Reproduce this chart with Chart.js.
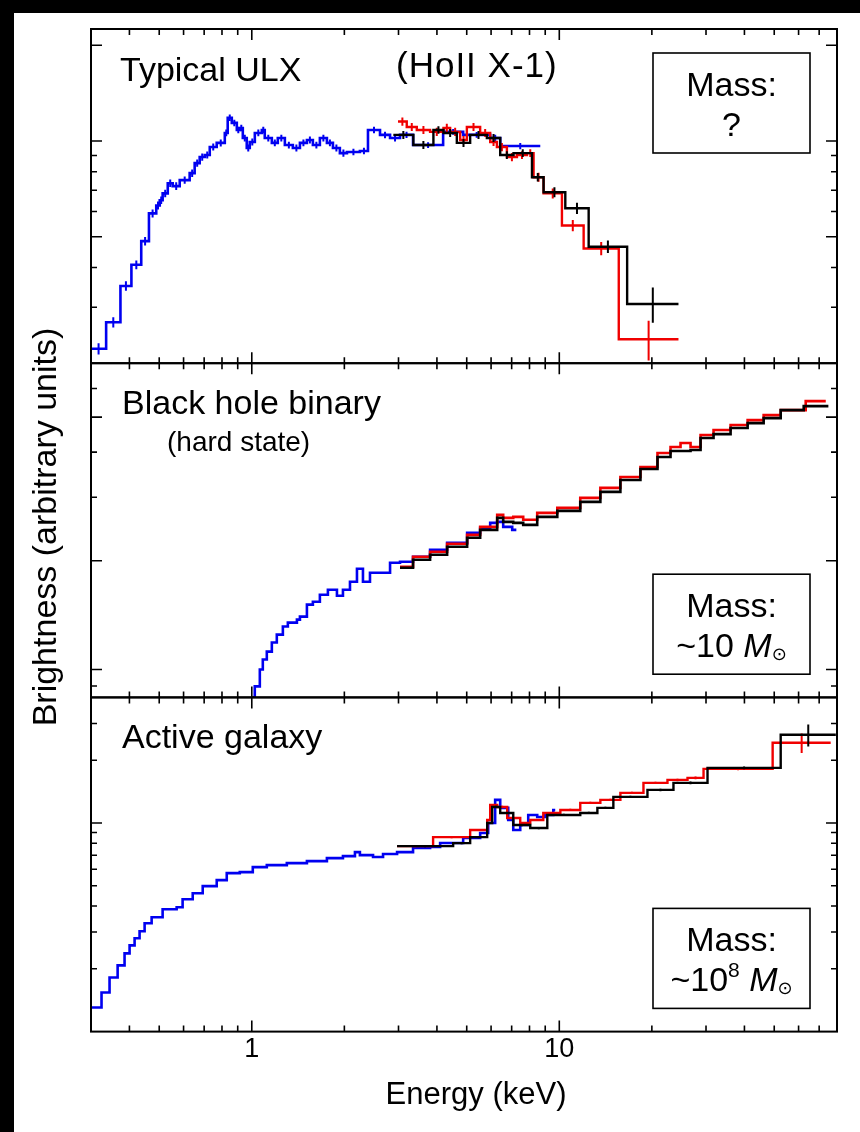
<!DOCTYPE html>
<html>
<head>
<meta charset="utf-8">
<script src="https://cdn.jsdelivr.net/npm/chart.js@4.4.1/dist/chart.umd.min.js"></script>
<style>
  html, body { margin: 0; padding: 0; background: #000; }
  #sheet { position: absolute; left: 14px; top: 13px; width: 846px; height: 1119px; background: #fff; }
  #plot { position: absolute; left: 0; top: 0; }
</style>
</head>
<body>
<div id="sheet"></div>
<canvas id="plot" width="860" height="1132"></canvas>
<script>
// ---------- energy axis (keV) ----------
const energyRange = [0.3, 80];
const energyLabels = [1, 10];
const energyMajorTicks = [1, 10];
const energyMinorTicks = [0.4, 0.5, 0.6, 0.7, 0.8, 0.9, 2, 3, 4, 5, 6, 7, 8, 9, 20, 30, 40, 50, 60, 70];

// ---------- brightness axes, one per panel (arbitrary units) ----------
const ulxRange = [0.2, 2.25];
const ulxMajorTicks = [0.5, 1, 2];
const ulxMinorTicks = [0.3, 0.4, 0.6, 0.7, 0.8, 0.9];

const bhbRange = [0.837, 7.05];
const bhbMajorTicks = [1, 2, 5];
const bhbMinorTicks = [0.9, 3, 4, 6];

const agnRange = [0.1, 4];
const agnMajorTicks = [1];
const agnMinorTicks = [0.2, 0.3, 0.4, 0.5, 0.6, 0.7, 0.8, 0.9, 2, 3];

// ---------- Typical ULX (Ho II X-1) ----------
const ulxBlueEdges = [0.300, 0.336, 0.374, 0.406, 0.437, 0.463, 0.489, 0.502, 0.513, 0.533,
  0.553, 0.583, 0.628, 0.652, 0.677, 0.703, 0.730, 0.769, 0.817, 0.835,
  0.861, 0.894, 0.914, 0.935, 0.963, 0.985, 1.023, 1.078, 1.102, 1.162,
  1.215, 1.281, 1.360, 1.434, 1.511, 1.580, 1.665, 1.755, 1.836, 1.934,
  2.039, 2.247, 2.387, 2.612, 2.816, 3.034, 3.345, 4.190, 4.868, 5.960,
  6.425, 8.673];
const ulxBlueFlux = [0.222, 0.269, 0.350, 0.408, 0.484, 0.592, 0.627, 0.651, 0.684, 0.736,
  0.721, 0.753, 0.792, 0.852, 0.890, 0.903, 0.957, 0.986, 1.060, 1.183,
  1.140, 1.083, 1.099, 1.022, 0.950, 0.993, 1.060, 1.083, 1.022, 0.986,
  1.022, 0.971, 0.950, 0.986, 1.007, 0.971, 1.022, 0.986, 0.950, 0.916,
  0.923, 0.930, 1.083, 1.045, 1.022, 1.045, 0.971, 1.068, 1.045, 1.022,
  0.964];
const ulxBlueErr = [0.009, 0.010, 0.012, 0.013, 0.015, 0.017, 0.018, 0.018, 0.019, 0.020,
  0.020, 0.020, 0.021, 0.022, 0.023, 0.023, 0.024, 0.025, 0.026, 0.028,
  0.027, 0.026, 0.026, 0.025, 0.024, 0.025, 0.026, 0.026, 0.025, 0.024,
  0.025, 0.024, 0.024, 0.024, 0.025, 0.024, 0.025, 0.024, 0.024, 0.024,
  0.022, 0.022, 0.026, 0.025, 0.025, 0.024, 0.020, 0.022, 0.022, 0.024,
  0.022];

const ulxRedEdges = [2.989, 3.191, 3.440, 3.800, 4.201, 4.416, 4.760, 5.005, 5.529, 5.960,
  6.267, 6.755, 7.282, 7.850, 8.248, 8.889, 10.20, 12.00, 15.61, 24.41];
const ulxRedFlux = [1.151, 1.107, 1.083, 1.068, 1.099, 1.068, 1.007, 1.107, 1.060, 0.993,
  0.957, 0.890, 0.903, 0.916, 0.769, 0.684, 0.542, 0.459, 0.238];
const ulxRedErr = [0.035, 0.033, 0.032, 0.032, 0.033, 0.032, 0.030, 0.032, 0.030, 0.028,
  0.028, 0.026, 0.026, 0.026, 0.025, 0.025, 0.022, 0.022, 0.034];

const ulxBlackEdges = [2.886, 3.353, 3.896, 4.201, 4.643, 5.130, 5.814, 6.425, 7.098, 8.150,
  8.889, 10.46, 12.46, 16.62, 24.41];
const ulxBlackFlux = [1.045, 0.971, 1.083, 1.060, 0.986, 1.045, 1.022, 0.903, 0.916, 0.769,
  0.690, 0.614, 0.465, 0.307];
const ulxBlackErr = [0.030, 0.028, 0.030, 0.030, 0.028, 0.030, 0.030, 0.026, 0.026, 0.024,
  0.025, 0.025, 0.021, 0.039];

// ---------- Black hole binary, hard state ----------
const bhbBlueEdges = [1.0075, 1.0227, 1.062, 1.086, 1.119, 1.162, 1.206, 1.262, 1.310, 1.402,
  1.434, 1.511, 1.580, 1.665, 1.768, 1.892, 1.979, 2.086, 2.198, 2.299,
  2.423, 2.816, 3.034, 3.345, 3.800, 4.317, 5.015, 5.529, 5.960, 6.281,
  6.570, 7.029, 7.25];
const bhbBlueFlux = [0.837, 0.898, 1.000, 1.066, 1.121, 1.188, 1.249, 1.315, 1.348, 1.374,
  1.401, 1.512, 1.541, 1.611, 1.663, 1.601, 1.663, 1.750, 1.901, 1.750,
  1.853, 1.975, 1.988, 2.052, 2.146, 2.243, 2.390, 2.468, 2.547, 2.564,
  2.483, 2.436];

const bhbRedEdges = [3.034, 3.345, 3.800, 4.317, 5.015, 5.529, 6.281, 6.570, 7.084, 7.632,
  8.476, 9.851, 11.70, 13.60, 15.80, 18.36, 20.86, 23.00, 24.79, 26.72,
  28.80, 31.74, 36.06, 40.97, 46.19, 52.48, 63.29, 73.54];
const bhbRedFlux = [1.926, 2.052, 2.118, 2.229, 2.360, 2.483, 2.680, 2.630, 2.647, 2.597,
  2.715, 2.803, 2.987, 3.183, 3.413, 3.637, 3.976, 4.130, 4.237, 4.130,
  4.459, 4.603, 4.752, 4.905, 5.063, 5.227, 5.535];

const bhbBlackEdges = [3.034, 3.345, 3.800, 4.317, 5.015, 5.529, 6.281, 6.570, 7.084, 7.632,
  8.476, 9.851, 11.70, 13.60, 15.80, 18.36, 20.86, 23.00, 26.72, 28.80,
  31.74, 36.06, 40.97, 46.19, 52.48, 62.35, 75.0];
const bhbBlackFlux = [1.913, 2.013, 2.078, 2.187, 2.316, 2.436, 2.630, 2.564, 2.547, 2.515,
  2.647, 2.750, 2.911, 3.103, 3.349, 3.592, 3.876, 4.027, 4.053, 4.375,
  4.486, 4.662, 4.812, 4.967, 5.227, 5.362];

// ---------- Active galaxy ----------
const agnBlueEdges = [0.300, 0.3246, 0.3447, 0.3662, 0.3857, 0.4005, 0.4158, 0.4316, 0.4482, 0.4724,
  0.5129, 0.5697, 0.5957, 0.6426, 0.6925, 0.7691, 0.8290, 0.9140, 1.0075, 1.119,
  1.300, 1.511, 1.755, 1.979, 2.165, 2.247, 2.479, 2.672, 2.968, 3.345,
  3.800, 4.097, 4.868, 5.529, 5.871, 6.186, 6.425, 6.822, 7.084, 7.464,
  7.925, 8.476, 9.003, 9.561, 9.70];
const agnBlueFlux = [0.1304, 0.1540, 0.1818, 0.2076, 0.2371, 0.2591, 0.2800, 0.3025, 0.3305, 0.3532,
  0.3859, 0.3946, 0.4311, 0.4607, 0.4979, 0.5321, 0.5749, 0.5812, 0.6144, 0.6282,
  0.6423, 0.6567, 0.6788, 0.6940, 0.7253, 0.7017, 0.6865, 0.7096, 0.7253, 0.7582,
  0.7667, 0.8012, 0.8472, 0.8953, 1.000, 1.290, 1.181, 1.034, 0.9254, 0.978,
  1.093, 1.069, 1.093, 1.155];

const agnRedEdges = [2.968, 3.887, 5.130, 5.828, 5.960, 6.281, 6.769, 7.464, 8.046, 8.870,
  10.08, 11.70, 13.60, 15.80, 18.78, 22.48, 26.12, 29.45, 49.41, 76.3];
const agnRedFlux = [0.775, 0.856, 0.925, 1.034, 1.220, 1.194, 1.057, 1.000, 1.034, 1.117,
  1.155, 1.248, 1.290, 1.394, 1.557, 1.609, 1.645, 1.818, 2.424];
const agnRedErr = [0.010, 0.010, 0.010, 0.012, 0.014, 0.014, 0.012, 0.012, 0.012, 0.013,
  0.014, 0.015, 0.016, 0.018, 0.020, 0.022, 0.024, 0.030, 0.26];

const agnBlackEdges = [2.968, 4.516, 5.130, 5.828, 6.050, 6.425, 7.084, 8.046, 9.141, 11.70,
  13.30, 14.99, 19.35, 23.51, 30.34, 52.48, 79.3];
const agnBlackFlux = [0.775, 0.801, 0.856, 1.000, 1.194, 1.117, 0.978, 0.946, 1.093, 1.117,
  1.181, 1.334, 1.441, 1.557, 1.838, 2.649];
const agnBlackErr = [0.010, 0.010, 0.010, 0.012, 0.014, 0.013, 0.012, 0.012, 0.013, 0.014,
  0.015, 0.017, 0.020, 0.022, 0.030, 0.32];

// ---------- texts ----------
const yTitle = 'Brightness (arbitrary units)';
const xTitle = 'Energy (keV)';
const panelNotes = {
  yUlx: { title: 'Typical ULX', subtitle: '(HoII X-1)', mass: 'Mass:', massValue: [{ t: '?' }] },
  yBhb: { title: 'Black hole binary', subtitle: '(hard state)', mass: 'Mass:',
          massValue: [{ t: '~10 ' }, { t: 'M', italic: true }, { t: '\u2299', sun: true }] },
  yAgn: { title: 'Active galaxy', mass: 'Mass:',
          massValue: [{ t: '~10' }, { t: '8', sup: true }, { t: ' ' }, { t: 'M', italic: true }, { t: '\u2299', sun: true }] }
};

const BLUE = '#0000f0';
const RED = '#f00000';
const BLACK = '#000000';
const FONT = '"Liberation Sans", Arial, Helvetica, "DejaVu Sans", sans-serif';

// a histogram: each bin is flat from its lower edge to the next edge
function binsToPoints(edges, flux) {
  const pts = flux.map((v, i) => ({ x: edges[i], y: v }));
  pts.push({ x: edges[edges.length - 1], y: flux[flux.length - 1] });
  return pts;
}

function spectrum(label, axis, edges, flux, errors, color, width, order) {
  return {
    label, yAxisID: axis, data: binsToPoints(edges, flux),
    binEdges: edges, binFlux: flux, binErr: errors || null,
    borderColor: color, borderWidth: width, stepped: 'before',
    pointRadius: 0, pointHoverRadius: 0, fill: false, order
  };
}

const axisTicks = {
  yUlx: { major: ulxMajorTicks, minor: ulxMinorTicks },
  yBhb: { major: bhbMajorTicks, minor: bhbMinorTicks },
  yAgn: { major: agnMajorTicks, minor: agnMinorTicks }
};

// frames, inward tick marks, error bars and panel annotations
const panelDecor = {
  id: 'panelDecor',
  afterDatasetDraw(chart, args) {
    const ds = chart.data.datasets[args.index];
    if (!ds.binErr) return;
    const xs = chart.scales.x, ys = chart.scales[ds.yAxisID];
    const ctx = chart.ctx;
    ctx.save();
    ctx.strokeStyle = ds.borderColor;
    ctx.lineWidth = 2;
    ctx.beginPath();
    for (let i = 0; i < ds.binFlux.length; i++) {
      const cx = (xs.getPixelForValue(ds.binEdges[i]) + xs.getPixelForValue(ds.binEdges[i + 1])) / 2;
      const v = ds.binFlux[i], e = ds.binErr[i];
      ctx.moveTo(cx, ys.getPixelForValue(v + e));
      ctx.lineTo(cx, ys.getPixelForValue(Math.max(v - e, ys.min)));
    }
    ctx.stroke();
    ctx.restore();
  },
  afterDraw(chart) {
    const ctx = chart.ctx;
    const xs = chart.scales.x;
    const { left, right, bottom: areaBottom } = chart.chartArea;
    const MAJ = 11, MIN = 6;
    ctx.save();
    ctx.strokeStyle = '#000';
    ctx.fillStyle = '#000';
    ['yUlx', 'yBhb', 'yAgn'].forEach((id) => {
      const ys = chart.scales[id];
      const top = ys.top, bottom = ys.bottom;
      // ticks
      ctx.lineWidth = 1.6;
      ctx.beginPath();
      const xt = (vals, len) => vals.forEach((v) => {
        const px = xs.getPixelForValue(v);
        ctx.moveTo(px, top); ctx.lineTo(px, top + len);
        ctx.moveTo(px, bottom); ctx.lineTo(px, bottom - len);
      });
      xt(energyMajorTicks, MAJ); xt(energyMinorTicks, MIN);
      const yt = (vals, len) => vals.forEach((v) => {
        const py = ys.getPixelForValue(v);
        ctx.moveTo(left, py); ctx.lineTo(left + len, py);
        ctx.moveTo(right, py); ctx.lineTo(right - len, py);
      });
      yt(axisTicks[id].major, MAJ); yt(axisTicks[id].minor, MIN);
      ctx.stroke();
      // frame
      ctx.lineWidth = 2;
      ctx.strokeRect(left, top, right - left, bottom - top);

      // annotations
      const note = panelNotes[id];
      ctx.textBaseline = 'alphabetic';
      ctx.textAlign = 'left';
      ctx.font = '34px ' + FONT;
      if (id === 'yUlx') {
        ctx.fillText(note.title, left + 29, top + 52);
        ctx.font = '35px ' + FONT;
        ctx.letterSpacing = '1px';
        ctx.fillText(note.subtitle, left + 305, top + 48);
        ctx.letterSpacing = '0px';
      } else {
        ctx.fillText(note.title, left + 31, top + 51);
        if (note.subtitle) {
          ctx.font = '28px ' + FONT;
          ctx.fillText(note.subtitle, left + 76, top + 88);
        }
      }
      // mass box
      const boxTop = id === 'yUlx' ? top + 24 : top + 211;
      const bx = left + 562, bw = 157, bh = 100;
      ctx.fillStyle = '#fff';
      ctx.fillRect(bx, boxTop, bw, bh);
      ctx.fillStyle = '#000';
      ctx.lineWidth = 1.6;
      ctx.strokeRect(bx, boxTop, bw, bh);
      const cx = bx + bw / 2;
      ctx.font = '34px ' + FONT;
      ctx.textAlign = 'center';
      ctx.fillText(note.mass, cx, boxTop + 43);
      // second line built from runs
      ctx.textAlign = 'left';
      const runs = note.massValue.map((r) => {
        let font = '34px ' + FONT, dy = 0;
        if (r.italic) font = 'italic 34px ' + FONT;
        if (r.sup) { font = '21px ' + FONT; dy = -14; }
        if (r.sun) { font = '18px "DejaVu Sans", sans-serif'; dy = 3; }
        ctx.font = font;
        return { t: r.t, font, dy, w: ctx.measureText(r.t).width };
      });
      const total = runs.reduce((s, r) => s + r.w, 0);
      let x = cx - total / 2;
      runs.forEach((r) => {
        ctx.font = r.font;
        ctx.fillText(r.t, x, boxTop + 83 + r.dy);
        x += r.w;
      });
    });
    // energy title under the bottom panel
    ctx.textAlign = 'center';
    ctx.textBaseline = 'alphabetic';
    ctx.font = '31px ' + FONT;
    ctx.fillText(xTitle, (left + right) / 2 + 12, areaBottom + 72);
    // brightness title spanning all panels
    ctx.save();
    ctx.translate(47, 527);
    ctx.rotate(-Math.PI / 2);
    ctx.textAlign = 'center';
    ctx.textBaseline = 'middle';
    ctx.font = '34px ' + FONT;
    ctx.fillText(yTitle, 0, 0);
    ctx.restore();
    ctx.restore();
  }
};

Chart.defaults.font.family = FONT;
Chart.defaults.color = '#000';

const yAxis = (range, weight) => ({
  type: 'logarithmic', position: 'left', stack: 'panels', stackWeight: 1, weight,
  min: range[0], max: range[1], display: false
});

new Chart(document.getElementById('plot'), {
  type: 'line',
  data: {
    datasets: [
      spectrum('ULX XMM', 'yUlx', ulxBlueEdges, ulxBlueFlux, ulxBlueErr, BLUE, 2.6, 3),
      spectrum('ULX FPMB', 'yUlx', ulxRedEdges, ulxRedFlux, ulxRedErr, RED, 2.4, 2),
      spectrum('ULX FPMA', 'yUlx', ulxBlackEdges, ulxBlackFlux, ulxBlackErr, BLACK, 2.4, 1),
      spectrum('BHB XMM', 'yBhb', bhbBlueEdges, bhbBlueFlux, null, BLUE, 2.6, 3),
      spectrum('BHB FPMB', 'yBhb', bhbRedEdges, bhbRedFlux, null, RED, 2.6, 2),
      spectrum('BHB FPMA', 'yBhb', bhbBlackEdges, bhbBlackFlux, null, BLACK, 2.6, 1),
      spectrum('AGN XMM', 'yAgn', agnBlueEdges, agnBlueFlux, null, BLUE, 2.6, 3),
      spectrum('AGN FPMB', 'yAgn', agnRedEdges, agnRedFlux, agnRedErr, RED, 2.4, 2),
      spectrum('AGN FPMA', 'yAgn', agnBlackEdges, agnBlackFlux, agnBlackErr, BLACK, 2.4, 1)
    ]
  },
  options: {
    responsive: false,
    animation: false,
    devicePixelRatio: 1,
    layout: { padding: { left: 91, top: 29, right: 23, bottom: 64 } },
    plugins: { legend: { display: false }, tooltip: { enabled: false } },
    events: [],
    scales: {
      x: {
        type: 'logarithmic', position: 'bottom', min: energyRange[0], max: energyRange[1],
        grid: { display: false, drawTicks: false }, border: { display: false },
        afterBuildTicks: (s) => { s.ticks = energyLabels.map((v) => ({ value: v })); },
        ticks: { autoSkip: false, maxRotation: 0, padding: 2, font: { size: 27 }, color: '#000',
                 callback: (v) => String(v) },
        title: { display: false }
      },
      yUlx: yAxis(ulxRange, 3),
      yBhb: yAxis(bhbRange, 2),
      yAgn: yAxis(agnRange, 1)
    }
  },
  plugins: [panelDecor]
});
</script>
</body>
</html>
